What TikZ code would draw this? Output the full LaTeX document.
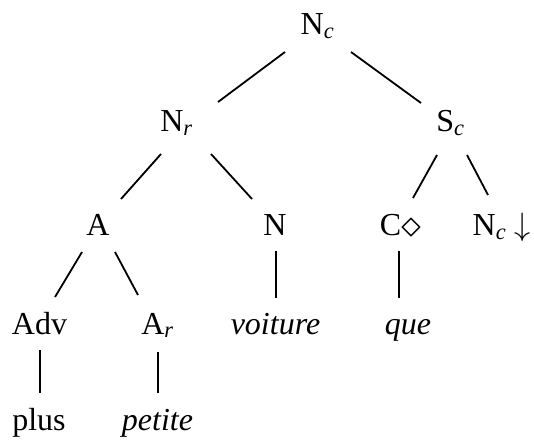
\documentclass[tikz,border=0pt]{standalone}
\usepackage{fontspec}
\usepackage{graphicx}
\setmainfont{Liberation Serif}
\newcommand\sbs[1]{\textsubscript{\textit{#1}}}
\newcommand\mydia{\raisebox{-1.5pt}{\scalebox{1.6}{$\diamond$}}}
\newcommand\mydown{\scalebox{1.3}{$\downarrow$}}
\begin{document}
\begin{tikzpicture}[x=1pt,y=1pt,
  lab/.style={inner sep=0pt,anchor=base,font=\fontsize{32}{38}\selectfont},
  edge/.style={line width=1.8pt}]
\useasboundingbox (0,0) rectangle (534,439);
% nodes (x = text centre, y = baseline, measured from top)
\node[lab] (Nc)  at (317.5,439-35)  {N\sbs{c}};
\node[lab] (Nr)  at (176.5,439-132) {N\sbs{r}};
\node[lab] (Sc)  at (450.5,439-132) {S\sbs{c}};
\node[lab] (A)   at (98,439-236)    {A};
\node[lab] (N)   at (275,439-236)   {N};
\node[lab] (C)   at (400.5,439-236) {C\mydia};
\node[lab] (Ncd) at (501.5,439-236) {N\sbs{c} \mydown};
\node[lab] (Adv) at (39.5,439-334)  {Adv};
\node[lab] (Ar)  at (157.5,439-334) {A\sbs{r}};
\node[lab] (voi) at (275.5,439-334) {\textit{voiture}};
\node[lab] (que) at (408,439-334)   {\textit{que}};
\node[lab] (plus) at (39,439-430)   {plus};
\node[lab] (pet) at (157.5,439-430) {\textit{petite}};
% connectors
\draw[edge] ([shift={(-32.5,-17)}]Nc.base) -- ([shift={(41.5,30)}]Nr.base);
\draw[edge] ([shift={(33.5,-17)}]Nc.base) -- ([shift={(-29.5,29)}]Sc.base);
\draw[edge] ([shift={(-15.5,-22)}]Nr.base) -- ([shift={(23,37)}]A.base);
\draw[edge] ([shift={(34.5,-22)}]Nr.base) -- ([shift={(-23,37)}]N.base);
\draw[edge] ([shift={(-13.5,-23)}]Sc.base) -- ([shift={(12.5,38)}]C.base);
\draw[edge] ([shift={(16.5,-23)}]Sc.base) -- ([shift={(-13.5,41)}]Ncd.base);
\draw[edge] ([shift={(-16,-16)}]A.base) -- ([shift={(15.5,37)}]Adv.base);
\draw[edge] ([shift={(17,-16)}]A.base) -- ([shift={(-19.5,39)}]Ar.base);
\draw[edge] ([shift={(1,-15)}]N.base) -- ([shift={(0.5,36)}]voi.base);
\draw[edge] ([shift={(-1.5,-15)}]C.base) -- ([shift={(-9,36)}]que.base);
\draw[edge] ([shift={(0.5,-16)}]Adv.base) -- ([shift={(1,37)}]plus.base);
\draw[edge] ([shift={(0.5,-18)}]Ar.base) -- ([shift={(0.5,37)}]pet.base);
\end{tikzpicture}
\end{document}
